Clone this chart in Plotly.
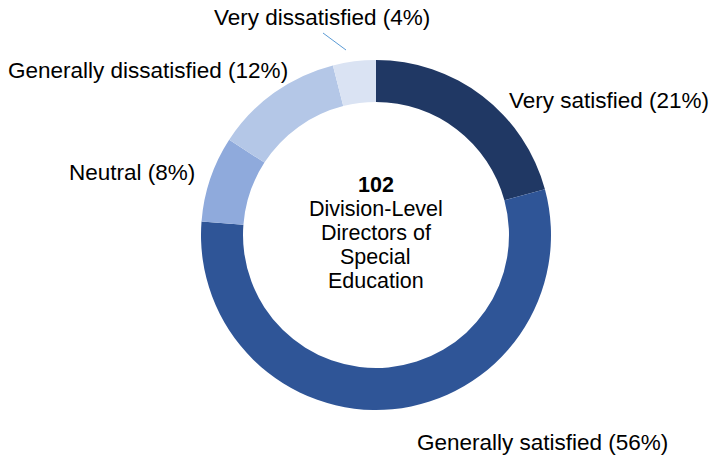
import plotly.graph_objects as go

W, H = 709, 458

categories = ["Very satisfied", "Generally satisfied", "Neutral",
              "Generally dissatisfied", "Very dissatisfied"]
shares = [21, 56, 8, 12, 4]
colors = ["#203864", "#2F5597", "#8FAADC", "#B4C7E7", "#DAE3F3"]
respondents = 102
center_caption = ["Division-Level", "Directors of", "Special", "Education"]

# label centres in pixels (x, y from top)
label_pos = [(609, 100), (542, 442), (132, 173), (148, 70), (322, 18)]
center_lines_y = [185, 209, 233, 257, 281]


def px(x, y):
    return x / W, 1 - y / H


fig = go.Figure(go.Pie(
    labels=categories,
    values=shares,
    marker=dict(colors=colors, line=dict(width=0)),
    hole=0.76,
    sort=False,
    direction="clockwise",
    rotation=0,
    textinfo="none",
    hoverinfo="label+percent",
    domain=dict(x=[(376 - 175) / W, (376 + 175) / W],
                y=[(458 - 410) / H, (458 - 60) / H]),
    showlegend=False,
))

font = dict(family="Liberation Sans, Arial, sans-serif", size=22.5, color="#000000")
center_font = dict(font, size=21.5)

annotations = []
for cat, val, (x, y) in zip(categories, shares, label_pos):
    ax, ay = px(x, y)
    annotations.append(dict(text=f"{cat} ({val}%)", x=ax, y=ay, xref="paper", yref="paper",
                            showarrow=False, font=font, xanchor="center", yanchor="middle"))

center_text = [f"<b>{respondents}</b>"] + center_caption
for line, y in zip(center_text, center_lines_y):
    ax, ay = px(376, y)
    annotations.append(dict(text=line, x=ax, y=ay, xref="paper", yref="paper",
                            showarrow=False, font=center_font,
                            xanchor="center", yanchor="middle"))

x0, y0 = px(323, 33)
x1, y1 = px(346, 50)
fig.update_layout(
    width=W, height=H,
    margin=dict(l=0, r=0, t=0, b=0),
    paper_bgcolor="white",
    plot_bgcolor="white",
    annotations=annotations,
    shapes=[dict(type="line", xref="paper", yref="paper", x0=x0, y0=y0, x1=x1, y1=y1,
                 line=dict(color="#5B9BD5", width=1))],
)

fig.write_html("out.html")
